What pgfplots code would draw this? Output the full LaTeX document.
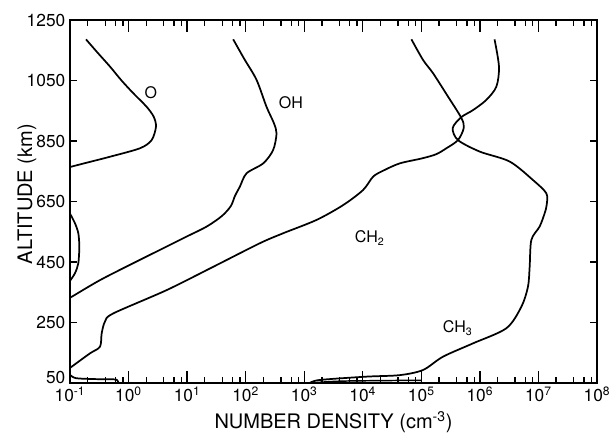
\documentclass[border=0pt]{standalone}
\usepackage{fontspec}
\setmainfont{TeX Gyre Heros}
\usepackage{pgfplots}
\pgfplotsset{compat=1.18}
\begin{document}
\begin{tikzpicture}
\begin{axis}[
  name=ax,
  scale only axis,
  width=395.25pt, height=272.25pt,
  xmin=-1, xmax=8, ymin=50, ymax=1250,
  xtick={-1,0,1,2,3,4,5,6,7,8},
  xticklabels={10\textsuperscript{-1},10\textsuperscript{0},10\textsuperscript{1},10\textsuperscript{2},10\textsuperscript{3},10\textsuperscript{4},10\textsuperscript{5},10\textsuperscript{6},10\textsuperscript{7},10\textsuperscript{8}},
  minor xtick={-0.699,-0.398,-0.222,-0.097,0.301,0.602,0.778,0.903,1.301,1.602,1.778,1.903,2.301,2.602,2.778,2.903,3.301,3.602,3.778,3.903,4.301,4.602,4.778,4.903,5.301,5.602,5.778,5.903,6.301,6.602,6.778,6.903,7.301,7.602,7.778,7.903},
  ytick={50,250,450,650,850,1050,1250},
  yticklabels={\raisebox{4.5pt}[\height][\depth]{50},250,450,650,850,1050,1250},
  tick align=inside,
  major tick length=9pt, minor tick length=4.5pt,
  ytick style={/pgfplots/major tick length=5.5pt},
  axis line style={line width=1.6pt},
  every tick/.style={black, line width=1pt},
  ticklabel style={font=\fontsize{13}{15}\selectfont},
  yticklabel style={inner ysep=1pt},
  xticklabel style={inner ysep=1pt, yshift=-2pt},
  xlabel={NUMBER DENSITY (cm\textsuperscript{-3})},
  ylabel={ALTITUDE (km)},
  label style={font=\fontsize{15}{17}\selectfont},
  xlabel style={at={(axis description cs:0.5,-0.125)}, anchor=base},
  ylabel style={at={(axis description cs:-0.072,0.52)}, anchor=base},
  clip=true,
]
% O upper
\addplot[black, line width=1.3pt, smooth] coordinates {
(-0.727,1186) (-0.52,1140) (-0.317,1096) (-0.12,1050) (0.080,1008) (0.309,963)
(0.43,930) (0.468,897) (0.394,853) (0.195,826) (-0.317,798) (-0.72,778) (-1.0,764)};
% O lower arc
\addplot[black, line width=1.3pt, smooth] coordinates {
(-1.0,610) (-0.915,578) (-0.858,545) (-0.841,500) (-0.858,446) (-0.915,413) (-1.0,388)};
% OH
\addplot[black, line width=1.3pt, smooth] coordinates {
(1.787,1186) (1.98,1120) (2.186,1052) (2.356,963) (2.48,910) (2.527,875) (2.469,820)
(2.299,776) (2.015,743) (1.901,699) (1.816,668) (1.747,635) (1.594,602) (1.333,567)
(0.980,533) (0.650,501) (0.080,446) (-0.488,390) (-0.971,335) (-1.0,333)};
% CH2
\addplot[black, line width=1.3pt, smooth] coordinates {
(4.831,1186) (5.029,1118) (5.2,1074) (5.445,1000) (5.684,926) (5.724,893) (5.626,853)
(5.428,826) (5.25,806) (5.0,792) (4.631,776) (4.35,752) (4.176,732) (4.005,688) (3.664,638) (3.210,589)
(2.640,545) (2.242,512) (1.445,434) (0.650,357) (-0.261,280) (-0.403,253) (-0.459,214)
(-0.488,170) (-0.659,148) (-0.971,104) (-1.0,100)};
% CH3
\addplot[black, line width=1.3pt, smooth] coordinates {
(6.25,1186) (6.326,1096) (6.282,1030) (6.111,986) (5.882,952) (5.684,929) (5.536,893)
(5.626,853) (5.997,815) (6.509,782) (6.906,721) (7.135,677) (7.14,638) (7.106,611)
(7.020,567) (6.879,523) (6.850,434) (6.821,368) (6.708,302) (6.452,231) (5.882,181)
(5.370,137) (5.029,93) (4.631,76) (4.063,71) (3.266,60) (3.096,50)};
% low-altitude fragments
\addplot[black, line width=1.3pt, smooth] coordinates {
(-1.0,77) (-0.9,66) (-0.6,63) (-0.25,62) (-0.19,58) (-0.17,50)};
\addplot[black, line width=1.1pt, smooth] coordinates {
(3.1,50) (3.6,56) (4.4,58) (5.0,59)};
\node[font=\fontsize{12}{14}\selectfont] at (axis cs:0.382,1009) {O};
\node[font=\fontsize{12}{14}\selectfont] at (axis cs:2.771,976) {OH};
\node[font=\fontsize{12}{14}\selectfont] at (axis cs:4.119,529) {CH\textsubscript{2}};
\node[font=\fontsize{12}{14}\selectfont] at (axis cs:5.621,232) {CH\textsubscript{3}};
\end{axis}
\pgfresetboundingbox
\path ([xshift=-52.5pt,yshift=-38.25pt]ax.south west) rectangle ([xshift=9.75pt,yshift=15pt]ax.north east);
\end{tikzpicture}
\end{document}
